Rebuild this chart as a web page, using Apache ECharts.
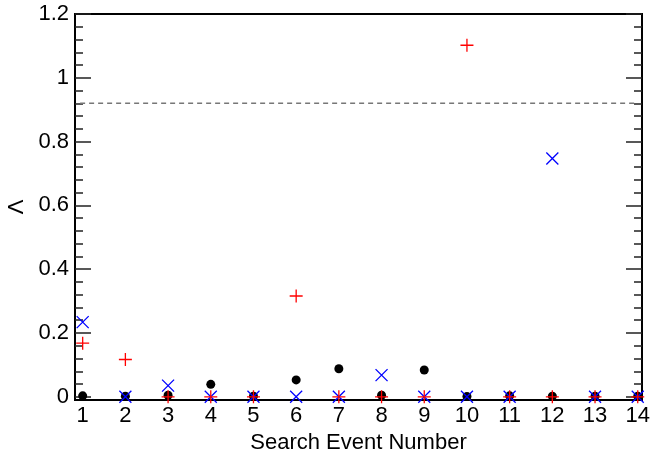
<!DOCTYPE html>
<html>
<head>
<meta charset="utf-8">
<script src="https://cdn.jsdelivr.net/npm/echarts@6/dist/echarts.min.js"></script>
<style>html,body{margin:0;padding:0;background:#fff}#c{width:650px;height:450px}</style>
</head>
<body>
<div id="c"></div>
<script>
var events = [1,2,3,4,5,6,7,8,9,10,11,12,13,14];
var blackDots = [0.003,0.002,0.005,0.039,0.002,0.053,0.088,0.005,0.084,0.001,0.003,0.002,0.002,0.002];
var redPlus   = [0.168,0.117,0.000,0.000,0.000,0.316,0.000,0.000,0.000,1.102,0.000,0.000,0.000,0.000];
var blueCross = [0.234,0.000,0.035,0.000,0.000,0.000,0.000,0.068,0.000,0.000,0.000,0.747,0.000,0.000];
var threshold = 0.92;
var thresholdSpan = [0.94, 13.95];
var yMajorTicks = [0,0.2,0.4,0.6,0.8,1.0,1.2];
var yMinorTicks = [0.04,0.08,0.12,0.16,0.24,0.28,0.32,0.36,0.44,0.48,0.52,0.56,0.64,0.68,0.72,0.76,0.84,0.88,0.92,0.96,1.04,1.08,1.12,1.16];

function pairs(vals){ return events.map(function(e,i){ return [e, vals[i]]; }); }

var FONT = 'Liberation Sans';
var FS = 22;
var chart = echarts.init(document.getElementById('c'), null, {renderer:'canvas'});
var yBase = {type:'value', min:-0.01, max:1.2, splitLine:{show:false}, axisLine:{show:false}};
function yAx(pos, ticks, len, showLabel, extra){
  var a = Object.assign({}, yBase, {
    position: pos,
    axisTick:{show:true, inside:true, length:len, customValues:ticks, lineStyle:{color:'#222', width:1.5}},
    axisLabel:{show:showLabel, customValues: yMajorTicks, fontFamily:FONT, fontSize:FS, color:'#000', margin:6,
      formatter:function(v){ return String(Math.round(v*10)/10); }}
  });
  return Object.assign(a, extra||{});
}
var option = {
  animation:false,
  grid:{left:75, right:8, top:14, bottom:50, containLabel:false, outerBoundsMode:'none',
    show:true, borderColor:'#000', borderWidth:2, backgroundColor:'transparent'},
  xAxis:{type:'value', min:0.82, max:14.1, splitLine:{show:false}, axisLine:{show:false}, axisTick:{show:false},
    name:'Search Event Number', nameLocation:'middle', nameGap:28,
    nameTextStyle:{fontFamily:FONT, fontSize:FS, color:'#000'},
    axisLabel:{customValues:events, fontFamily:FONT, fontSize:FS, color:'#000', margin:5}},
  yAxis:[
    yAx('left', yMajorTicks, 16, true, {name:'Λ', nameLocation:'middle', nameGap:46, nameRotate:90,
      nameTextStyle:{fontFamily:FONT, fontSize:FS, color:'#000'}}),
    yAx('left', yMinorTicks, 8, false),
    yAx('right', yMajorTicks, 16, false),
    yAx('right', yMinorTicks, 8, false)
  ],
  series:[
    {type:'line', data:[[thresholdSpan[0],threshold],[thresholdSpan[1],threshold]], symbol:'none',
      lineStyle:{color:'#777', width:1.5, type:[5,4]}, silent:true},
    {type:'scatter', data:pairs(blackDots), symbol:'circle', symbolSize:9, itemStyle:{color:'#000', opacity:1}},
    {type:'scatter', data:pairs(blueCross), symbol:'path://M0,0L10,10M10,0L0,10', symbolSize:12,
      itemStyle:{color:'transparent', borderColor:'#0000ff', borderWidth:1.3, opacity:1}},
    {type:'scatter', data:pairs(redPlus), symbol:'path://M5,0L5,10M0,5L10,5', symbolSize:13,
      itemStyle:{color:'transparent', borderColor:'#ff0000', borderWidth:1.3, opacity:1}}
  ]
};
chart.setOption(option);
</script>
</body>
</html>
